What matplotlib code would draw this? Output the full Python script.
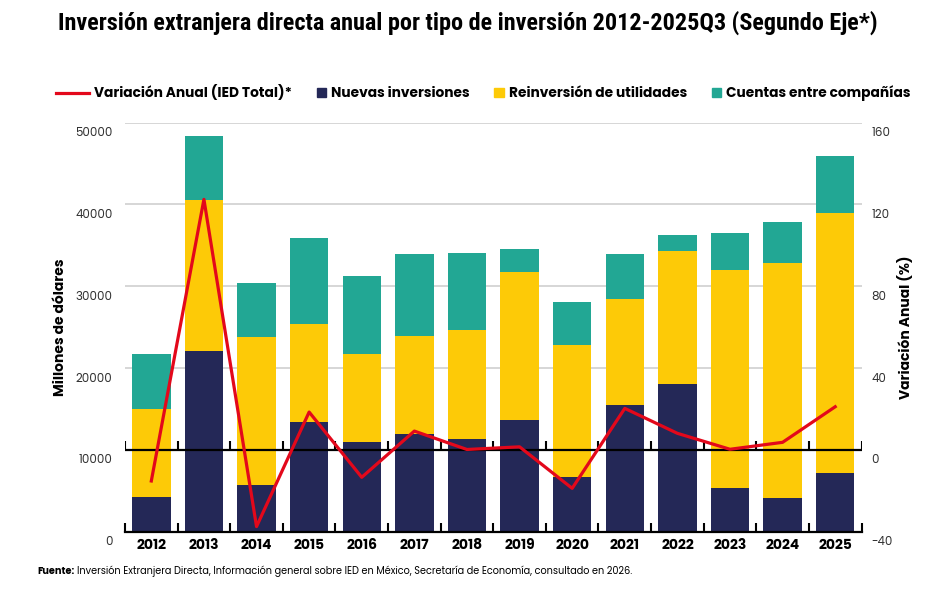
import numpy as np
import matplotlib
matplotlib.use('Agg')
import matplotlib.pyplot as plt
from matplotlib.patches import Patch, Rectangle
from matplotlib.lines import Line2D
from matplotlib.legend_handler import HandlerPatch
from matplotlib.transforms import ScaledTranslation

# ---------- Données (millions de dollars, %) ----------
years = ["2012", "2013", "2014", "2015", "2016", "2017", "2018",
         "2019", "2020", "2021", "2022", "2023", "2024", "2025"]
nuevas = [4.3, 22.1, 5.7, 13.4, 11.0, 11.9, 11.3,
          13.6, 6.7, 15.5, 18.1, 5.3, 4.1, 7.2]
reinversion = [10.7, 18.4, 18.05, 12.0, 10.7, 12.0, 13.3,
               18.1, 16.1, 13.0, 16.2, 26.7, 28.7, 31.8]
cuentas = [6.7, 7.9, 6.6, 10.5, 9.5, 10.1, 9.5,
           2.9, 5.3, 5.4, 2.0, 4.5, 5.05, 6.9]
variacion = [-15.2, 122.5, -37.5, 18.5, -13.4, 9.2, 0.2,
             1.5, -18.8, 20.3, 8.1, 0.3, 3.7, 21.1]

left_ticks = [0, 10000, 20000, 30000, 40000, 50000]
right_ticks = [-40, 0, 40, 80, 120, 160]

C_NAVY = "#242857"
C_YELLOW = "#FDCA07"
C_TEAL = "#22A794"
C_RED = "#E3081B"

FONT = ["Poppins", "DejaVu Sans"]
NARROW = ["Roboto Condensed", "Liberation Sans Narrow", "DejaVu Sans"]
plt.rcParams['font.family'] = FONT


def square_patch(legend, orig_handle, xdescent, ydescent, width, height, fontsize):
    s = height * 1.0
    return Rectangle((width - s - xdescent, -ydescent + (height - s) / 2), s, s)


def main():
    fig = plt.figure(figsize=(9.35, 5.95), dpi=100)
    ax = fig.add_axes([0.1337, 0.1064, 0.7877, 0.6874])

    x = np.arange(len(years))
    n = np.array(nuevas) * 1000
    r = np.array(reinversion) * 1000
    c = np.array(cuentas) * 1000
    w = 0.73
    ax.bar(x, n, w, color=C_NAVY, zorder=2)
    ax.bar(x, r, w, bottom=n, color=C_YELLOW, zorder=2)
    ax.bar(x, c, w, bottom=n + r, color=C_TEAL, zorder=2)

    ax.set_xlim(-0.5, len(years) - 0.5)
    ax.set_ylim(0, 50000)
    ax.set_yticks(left_ticks)
    ax.set_yticklabels([str(v) for v in left_ticks])
    ax.yaxis.grid(True, color="#d0d0d0", lw=1.2, zorder=0)
    ax.set_axisbelow(True)
    for s in ("left", "right", "top"):
        ax.spines[s].set_visible(False)
    ax.spines["bottom"].set_linewidth(1.6)
    ax.spines["bottom"].set_color("black")

    bounds = np.arange(-0.5, len(years))
    ax.set_xticks(x)
    ax.set_xticklabels(years, fontsize=10, fontweight="bold")
    ax.set_xticks(bounds, minor=True)
    ax.tick_params(axis="x", which="major", length=0, pad=5)
    ax.tick_params(axis="x", which="minor", direction="in", length=6.5, width=1.5)
    ax.tick_params(axis="y", length=0, pad=9, labelsize=8.5, labelcolor="#333333")

    # ligne du zéro du second axe (= 10000 à gauche) avec graduations
    ax.axhline(10000, color="black", lw=1.6, zorder=3)
    ax.vlines(bounds, 10000, 11100, color="black", lw=1.5, zorder=3)

    ax.set_ylabel("Millones de dólares", fontsize=10, fontweight="bold", labelpad=5)

    ax2 = ax.twinx()
    ax2.plot(x, variacion, color=C_RED, lw=2.3, zorder=5)
    ax2.set_ylim(-40, 160)
    ax2.set_yticks(right_ticks)
    ax2.set_yticklabels([str(v) for v in right_ticks])
    ax2.tick_params(axis="y", length=0, pad=7, labelsize=8.5, labelcolor="#333333")
    for s in ax2.spines.values():
        s.set_visible(False)
    ax2.set_ylabel("Variación Anual (%)", fontsize=10, fontweight="bold", labelpad=4)

    off = ScaledTranslation(0, -0.09, fig.dpi_scale_trans)
    for lab in ax.get_yticklabels() + ax2.get_yticklabels():
        lab.set_transform(lab.get_transform() + off)

    fig.text(0.5, 0.962, "Inversión extranjera directa anual por tipo de inversión 2012-2025Q3 (Segundo Eje*)",
             ha="center", va="center", fontsize=17.4, fontweight="bold", family=NARROW,
             fontstretch="condensed")

    handles = [Line2D([], [], color=C_RED, lw=2.3),
               Patch(color=C_NAVY), Patch(color=C_YELLOW), Patch(color=C_TEAL)]
    labels = ["Variación Anual (IED Total)*", "Nuevas inversiones",
              "Reinversión de utilidades", "Cuentas entre compañías"]
    hp = HandlerPatch(patch_func=square_patch)
    fig.legend(handles, labels, loc="center", bbox_to_anchor=(0.517, 0.843), ncol=4,
               frameon=False, handlelength=2.4, handletextpad=0.35, columnspacing=0.1,
               prop={"weight": "bold", "size": 9.9},
               handler_map={Patch: hp})

    t1 = fig.text(0.04, 0.035, "Fuente:", fontsize=7, fontweight="bold", va="baseline")
    ax.annotate("Inversión Extranjera Directa, Información general sobre IED en México, "
                "Secretaría de Economía, consultado en 2026.", xy=(1, 0), xycoords=t1,
                xytext=(2, 0), textcoords="offset points", va="bottom", fontsize=7,
                annotation_clip=False)

    fig.savefig("out.png", dpi=100)
    plt.close(fig)


if __name__ == "__main__":
    main()
